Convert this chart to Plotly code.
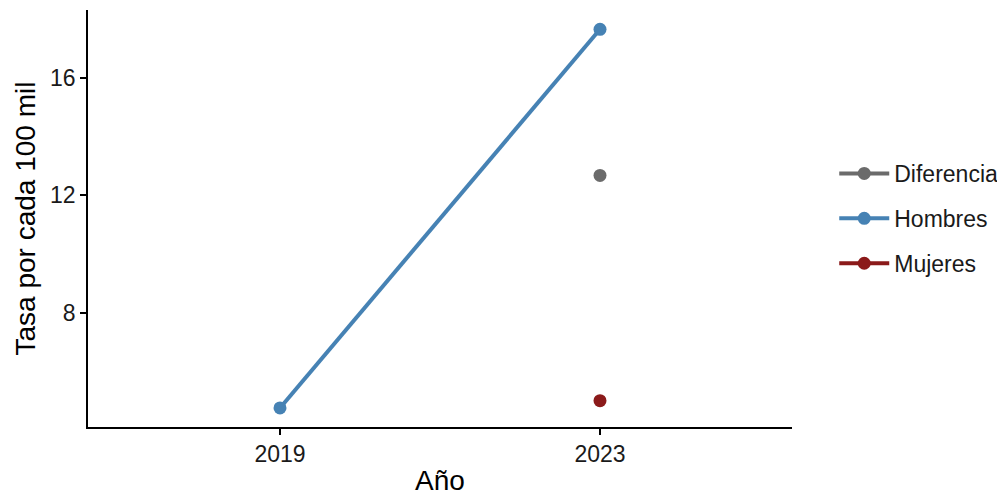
import plotly.graph_objects as go

years = ["2019", "2023"]
hombres = [4.74, 17.67]
mujeres = [None, 4.99]
diferencia = [None, 12.68]

series = [
    ("Diferencia", diferencia, "#6B6B6B"),
    ("Hombres", hombres, "#4682B4"),
    ("Mujeres", mujeres, "#8B1A1A"),
]

fig = go.Figure()
for name, vals, col in series:
    fig.add_trace(go.Scatter(
        x=years, y=vals, name=name, mode="lines+markers",
        legendgroup=name,
        line=dict(color=col, width=4),
        marker=dict(color=col, size=13),
        connectgaps=False,
    ))

FONT = "Liberation Sans, Arial, sans-serif"
axis_font = dict(family=FONT, size=23, color="#1a1a1a")
fig.update_layout(
    width=997, height=488,
    margin=dict(l=80, r=213, t=2, b=69),
    paper_bgcolor="white", plot_bgcolor="white",
    font=dict(family=FONT, color="#1a1a1a"),
    showlegend=True,
    legend=dict(x=1.06, xanchor="left", y=0.5, yanchor="middle",
                font=dict(size=23, color="#1a1a1a"), traceorder="grouped",
                tracegroupgap=12, itemwidth=50),
    xaxis=dict(type="category", range=[-0.6, 1.6], showgrid=False, zeroline=False,
               showline=True, linecolor="black", linewidth=1.5,
               ticks="outside", ticklen=6, tickcolor="black", tickwidth=1.5,
               tickfont=axis_font,
               title=dict(text="Año", font=dict(family=FONT, size=28, color="black"), standoff=4)),
    yaxis=dict(range=[4.09, 18.33], tickvals=[8, 12, 16], showgrid=False, zeroline=False,
               showline=True, linecolor="black", linewidth=1.5,
               ticks="outside", ticklen=6, tickcolor="black", tickwidth=1.5,
               tickfont=axis_font,
               title=dict(text="Tasa por cada 100 mil", font=dict(family=FONT, size=28, color="black"), standoff=6)),
)
fig.write_html("out.html")
